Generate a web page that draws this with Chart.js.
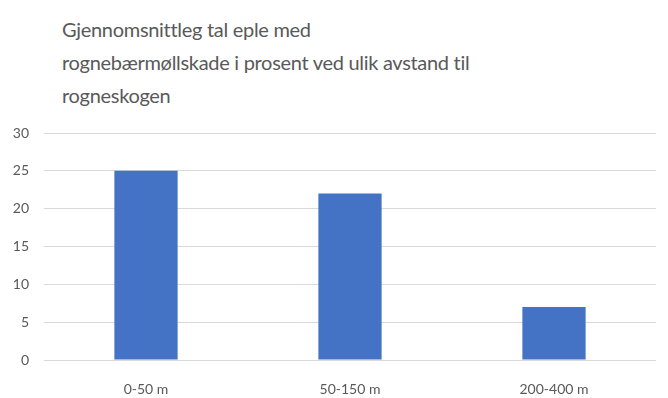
<!DOCTYPE html>
<html>
<head>
<meta charset="utf-8">
<script src="https://cdn.jsdelivr.net/npm/chart.js@4"></script>
<style>
    body { margin: 0; background: #fff; }
    #wrap { position: relative; width: 668px; height: 398px; }
    #title {
        position: absolute; left: 62px; top: 13px;
        font-family: Lato, "Open Sans", sans-serif; font-size: 20px;
        letter-spacing: -0.3px;
        line-height: 33px; color: #595959;
    }
    canvas { position: absolute; left: 0; top: 0; }
</style>
</head>
<body>
<div id="wrap">
    <div id="title">Gjennomsnittleg tal eple med<br>rognebærmøllskade i prosent ved ulik avstand til<br>rogneskogen</div>
    <canvas id="barChart" width="668" height="398"></canvas>
</div>
<script>
const categories = ['0-50 m', '50-150 m', '200-400 m'];
const damage = [25, 22, 7];
const yTicks = [0, 5, 10, 15, 20, 25, 30];

document.addEventListener('DOMContentLoaded', () => {
    const ctx = document.getElementById('barChart');
    new Chart(ctx, {
        type: 'bar',
        data: {
            labels: categories,
            datasets: [{
                label: 'Skade',
                data: damage,
                backgroundColor: '#4472C4',
                borderWidth: 0,
                barPercentage: 0.31,
                categoryPercentage: 1
            }]
        },
        options: {
            responsive: false,
            animation: false,
            layout: {
                padding: { top: 133, right: 12, left: 0, bottom: 0 }
            },
            plugins: {
                legend: { display: false },
                tooltip: { enabled: false }
            },
            scales: {
                x: {
                    grid: { display: false },
                    border: { display: false },
                    ticks: {
                        color: '#595959',
                        padding: 13,
                        font: { family: 'Lato', size: 14 }
                    },
                    afterFit: (scale) => { scale.height = 38; }
                },
                y: {
                    min: 0,
                    max: 30,
                    afterBuildTicks: (scale) => {
                        scale.ticks = yTicks.map(v => ({ value: v }));
                    },
                    grid: {
                        color: '#d9d9d9',
                        drawTicks: false
                    },
                    border: { display: false },
                    ticks: {
                        color: '#595959',
                        padding: 15,
                        font: { family: 'Lato', size: 14 }
                    },
                    afterFit: (scale) => { scale.width = 44; }
                }
            }
        }
    });
});
</script>
</body>
</html>
